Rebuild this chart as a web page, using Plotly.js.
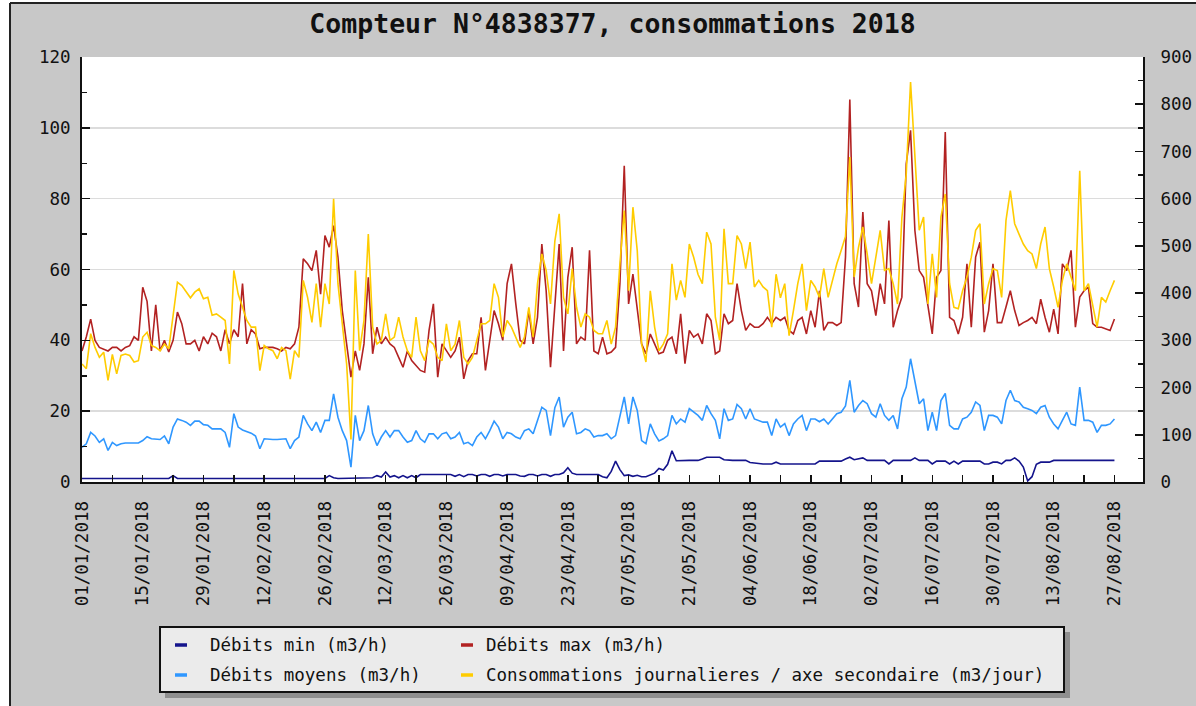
<!DOCTYPE html>
<html><head><meta charset="utf-8">
<script src="https://cdn.plot.ly/plotly-3.0.1.min.js"></script>
<style>html,body{margin:0;padding:0;background:#fff;overflow:hidden;} #chart{width:1196px;height:706px;}</style>
</head><body><div id="chart"></div>
<script>
const chartTitle = 'Compteur N°4838377, consommations 2018';
const startDate = [2018, 0, 1];
const seriesNames = ['Débits min (m3/h)', 'Débits max (m3/h)', 'Débits moyens (m3/h)', 'Consommations journalieres / axe secondaire (m3/jour)'];
const seriesColors = ['#14148c', '#b22222', '#2f97ff', '#ffcc00'];

const debitsMin = [
1,1,1,1,1,1,1,1,1,1,
1,1,1,1,1,1,1,1,1,1,
1,1.8,1,1,1,1,1,1,1,1,
1,1,1,1,1,1,1,1,1,1,
1,1,1,1,1,1,1,1,1,1,
1,1,1,1,1,1,1,1.8,1.2,1,
1,1,1,1,1,1,1,1.2,1.8,1.4,
2.8,1.4,1.8,1.2,1.8,1.2,1.8,1.2,2.1,2.1,
2.1,2.1,2.1,2.1,2.1,2.1,1.6,2.1,1.5,2.1,
2.1,1.7,2.1,2.1,1.6,2.1,2.1,1.7,2.1,2.1,
2.1,1.7,1.6,2.1,2.1,1.7,2.1,2.1,1.6,2.1,
2.1,2.6,4,2.5,2.1,2.1,2.1,2.1,2.1,2.1,
1.5,1.2,3,5.9,3.5,1.8,2,1.6,1.9,1.5,
1.5,2,2.5,3.8,3.4,5,8.8,6,6.1,6.1,
6.1,6.1,6.1,6.5,7,7,7,7,6.3,6.1,
6.1,6.1,6.1,6.1,5.5,5.3,5.1,5.1,5.1,5.1,
5.6,5.1,5.1,5.1,5.1,5.1,5.1,5.1,5.1,5.1,
5.9,5.9,5.9,5.9,5.9,5.9,6.5,7,6.3,6.5,
6.8,6.1,6.1,6.1,6.1,6.1,5.1,6.1,6.1,6.1,
6.1,6.1,6.8,6.1,6.1,6.1,5.1,5.9,5.9,5.9,
5.1,5.9,5.1,5.9,5.9,5.9,5.9,5.9,5.1,5.1,
5.6,5.6,5.1,6.1,6.1,6.8,5.9,4.2,0.3,1.5,
5,5.6,5.6,5.6,6.1,6.1,6.1,6.1,6.1,6.1,
6.1,6.1,6.1,6.1,6.1,6.1,6.1,6.1,6.1];

const debitsMax = [
37,41,46,40,38,37.6,37,38,38,37,
38,38.5,41,40,55,51,37,50,37,40,
36.7,40,48,44.7,39,39,40,37,41,39,
42,41,37,43,39,43,41,56,39,43,
41.8,37.6,38,38,38,37.6,37,38,37.6,39,
43.7,63,61.6,59.7,65.4,53,69.6,66.3,72.4,63.5,
48.4,39,29.6,37,31.5,39,57.8,36.2,43.7,39,
40.9,39,38,35.2,32.4,37,34.3,32.9,31.5,31,
42.8,50.3,29.6,39,37,35.2,37,40.9,29.1,34.3,
36.2,36.2,46.5,31.5,40,48.4,44.7,40,56,61.6,
50.3,40,39,48.4,39,46.5,67.2,54,32.4,51.3,
67.2,37,57.8,66.3,39,40.9,40,65.4,37,36.2,
40.9,36.2,36.7,38,56,89.3,50.3,58.7,49.4,39,
36.2,41.8,39,36.2,36.7,40,40.9,36.2,47.5,33.4,
42.8,40.9,41.8,39,47.5,45.6,36.2,37,47.5,44.7,
45.6,56,48.4,42.8,44.7,43.7,43.7,44.7,46.5,44.7,
46.5,45.6,46.5,42.8,41.8,45.6,46.5,41.8,48.4,43.7,
54,42.8,45,45,44.2,45,63.5,108,56,49.4,
76.2,56,54,47,56,50.3,73.8,43.7,48.4,52.2,
89.8,99.3,71,59.7,57.8,50.3,41.8,57.8,59.7,98.8,
46.5,45.6,41.8,46.5,61.6,43.7,63.5,67.7,42.3,48.4,
61.6,45,45,49.4,54,48.4,44.2,45,45.6,46.5,
44.7,51.6,46.5,42.3,48.8,41.8,61.6,59.7,65.4,43.7,
52.2,54,55,44.7,43.7,43.7,43.2,42.8,46];

const debitsMoyens = [
9.8,10.8,14,13,11.2,12.2,8.9,11.2,10.3,10.8,
11,11,11,11,11.7,12.8,12.2,12,12,13,
10.8,15.5,17.8,17.4,16.9,16,17.2,17.2,16.2,16,
15,15,15,14,9.8,19.3,15.5,14.7,14.3,13.8,
13,9.4,12.2,12,12,12,12,12.2,9.4,11.7,
12.7,18.8,16.4,14.5,16.9,14,17.4,17.4,24.9,18.3,
14.5,11.7,4.2,18.8,11.7,14.5,21.6,13.6,10.3,12.7,
14.5,12.7,14.5,14.5,12.7,11.2,11.7,14.5,12.2,11.2,
13.6,13.6,12.2,13.6,14,12.2,12.7,14,10.8,11.2,
10.3,12.7,14,12.2,14.5,17.2,15.5,12.2,14,13.6,
12.7,12.2,14.5,15,13.6,17.4,21.1,20.2,13.1,21,
24,15.5,18.3,19.7,13.6,14,15,14.5,12.7,13.1,
13.1,13.6,12.2,13.1,18.3,24,16.4,24,20.2,11.7,
10.8,16.4,13.6,11.6,12.2,13.1,18.8,16.4,17.8,16.9,
20.7,19.7,18.8,17.4,21.6,19.3,17.4,12.2,20.7,17.4,
17.8,21.9,20.7,17.8,20.7,17.8,17.4,16.9,16.9,13.1,
17.8,15.5,16.5,13.1,16.4,17.8,18.8,14.5,17.8,17.8,
17,17.8,16.4,17.8,19.3,19.7,21.5,28.7,19.7,21.6,
23,22.1,19.3,18.3,22.1,18.8,17.4,18.8,15,23.5,
26.8,34.8,28.5,22.1,23.5,14.5,19.7,14.5,23,25,
16,15,15,17.8,18.3,19.7,22.6,21.6,14.5,18.8,
18.8,18.3,16.4,23,25.9,23,22.6,21.1,20.7,20.2,
19.3,21.1,21.6,18.3,16.4,15,17.4,19.7,16.4,16,
26.8,17.4,17.4,16.9,14,16,16,16.4,17.8];

const consoJour = [
250,240,314,285,264,275,215,270,229,268,
271,268,254,257,307,317,289,285,278,292,
282,349,423,416,402,390,402,409,388,391,
353,356,349,342,250,448,398,370,342,328,
328,236,289,282,278,261,285,278,218,278,
264,427,391,338,420,328,420,377,600,420,
328,250,90,448,278,342,525,328,292,300,
356,300,307,349,307,278,264,349,278,257,
300,292,264,257,335,278,292,342,264,250,
264,300,335,335,342,420,391,307,342,328,
307,285,307,370,307,420,483,448,377,510,
568,391,356,452,370,328,356,349,321,314,
314,342,292,328,462,575,405,582,490,292,
254,405,328,278,292,314,462,385,427,391,
504,476,440,420,529,504,349,300,536,420,
420,522,504,452,508,413,427,413,405,328,
440,390,420,310,363,420,462,363,427,413,
391,452,391,427,462,490,520,688,434,497,
540,483,420,476,533,448,452,420,377,560,
652,847,680,533,561,377,483,391,561,610,
420,370,367,405,434,476,533,547,377,420,
452,448,391,554,617,547,525,504,490,483,
452,504,540,452,413,370,427,462,434,405,
659,405,420,377,328,391,381,405,427];

const dates = debitsMax.map((_, i) => new Date(Date.UTC(startDate[0], startDate[1], startDate[2] + i)).toISOString().slice(0, 10));

const W = 1196, H = 706, ML = 82, MR = 53, MT = 57, MB = 224;
const PW = W - ML - MR, PH = H - MT - MB;
const px = x => (x - ML) / PW;
const py = y => (H - MB - y) / PH;
const FONT = 'DejaVu Sans Mono';

function mk(y, i, axis) {
  return { x: dates, y: y, name: seriesNames[i], type: 'scatter', mode: 'lines',
    yaxis: axis, line: { color: seriesColors[i], width: 1.6 }, showlegend: false, hoverinfo: 'x+y' };
}
const traces = [
  mk(debitsMin, 0, 'y'),
  mk(debitsMax, 1, 'y'),
  mk(debitsMoyens, 2, 'y'),
  mk(consoJour, 3, 'y2')
];

const shapes = [
  { type: 'rect', xref: 'paper', yref: 'paper', x0: px(-5), x1: px(10), y0: py(720), y1: py(-5), fillcolor: '#ffffff', line: { width: 0 }, layer: 'below' },
  { type: 'rect', xref: 'paper', yref: 'paper', x0: px(-5), x1: px(1210), y0: py(3), y1: py(-5), fillcolor: '#ffffff', line: { width: 0 }, layer: 'below' },
  { type: 'line', xref: 'paper', yref: 'paper', x0: px(10), x1: px(10), y0: py(3), y1: py(720), line: { color: '#222', width: 2 } },
  { type: 'line', xref: 'paper', yref: 'paper', x0: px(10), x1: px(1210), y0: py(3), y1: py(3), line: { color: '#222', width: 2 } },
  { type: 'rect', xref: 'paper', yref: 'paper', x0: px(165), x1: px(1070), y0: py(698), y1: py(632), fillcolor: '#8f8f8f', line: { width: 0 } },
  { type: 'rect', xref: 'paper', yref: 'paper', x0: px(160), x1: px(1064), y0: py(692), y1: py(627), fillcolor: '#ebebeb', line: { color: '#111', width: 2 } }
];
// [symbol x, text x, y] in pixels
const legendPos = [[175, 208, 645], [461, 484, 645], [175, 208, 675], [461, 484, 675]];
const annotations = [];
legendPos.forEach((p, i) => {
  shapes.push({ type: 'line', xref: 'paper', yref: 'paper', x0: px(p[0]), x1: px(p[0] + 12), y0: py(p[2]), y1: py(p[2]), line: { color: seriesColors[i], width: 3.5 } });
  annotations.push({ xref: 'paper', yref: 'paper', x: px(p[1]), y: py(p[2]), xanchor: 'left', yanchor: 'middle', showarrow: false,
    text: seriesNames[i], font: { family: FONT, size: 17.5, color: '#111' } });
});

const tickFont = { family: FONT, size: 17.5, color: '#111' };
const layout = {
  width: W, height: H,
  margin: { l: ML, r: MR, t: MT, b: MB, pad: 0 },
  paper_bgcolor: '#c8c8c8', plot_bgcolor: '#ffffff',
  showlegend: false,
  title: { text: '<b>' + chartTitle + '</b>', x: 0.5, xref: 'paper', xanchor: 'center', y: 1 - 24 / H, yanchor: 'middle', yref: 'container',
    font: { family: FONT, size: 26.5, color: '#111' } },
  xaxis: {
    type: 'date', range: ['2018-01-01', '2018-09-02 14:00'],
    tick0: '2018-01-01', dtick: 14 * 86400000, tickformat: '%d/%m/%Y', tickangle: -90,
    ticks: 'inside', ticklen: 7, tickwidth: 1.5, tickcolor: '#111', ticklabelstandoff: 10,
    minor: { dtick: 7 * 86400000, tick0: '2018-01-01', ticks: 'inside', ticklen: 7, tickwidth: 1.5, tickcolor: '#111', showgrid: false },
    showline: true, linecolor: '#111', linewidth: 2, showgrid: false, zeroline: false,
    tickfont: tickFont, fixedrange: true
  },
  yaxis: {
    range: [0, 120], dtick: 20, tick0: 0,
    ticks: 'inside', ticklen: 8, tickwidth: 1.5, tickcolor: '#111', ticklabelstandoff: 6,
    minor: { dtick: 10, ticks: 'inside', ticklen: 5, tickwidth: 1.5, tickcolor: '#111', showgrid: false },
    showline: true, linecolor: '#111', linewidth: 2,
    showgrid: true, gridcolor: '#dcdcdc', gridwidth: 1.5, zeroline: false,
    tickfont: tickFont, fixedrange: true
  },
  yaxis2: {
    overlaying: 'y', side: 'right', range: [0, 900], dtick: 100, tick0: 0,
    ticks: 'inside', ticklen: 8, tickwidth: 1.5, tickcolor: '#111', ticklabelstandoff: 12,
    minor: { dtick: 50, ticks: 'inside', ticklen: 5, tickwidth: 1.5, tickcolor: '#111', showgrid: false },
    showline: true, linecolor: '#111', linewidth: 2, showgrid: false, zeroline: false,
    tickfont: tickFont, fixedrange: true
  },
  shapes: shapes,
  annotations: annotations
};

Plotly.newPlot('chart', traces, layout, { displayModeBar: false, staticPlot: true });
</script>
</body></html>
